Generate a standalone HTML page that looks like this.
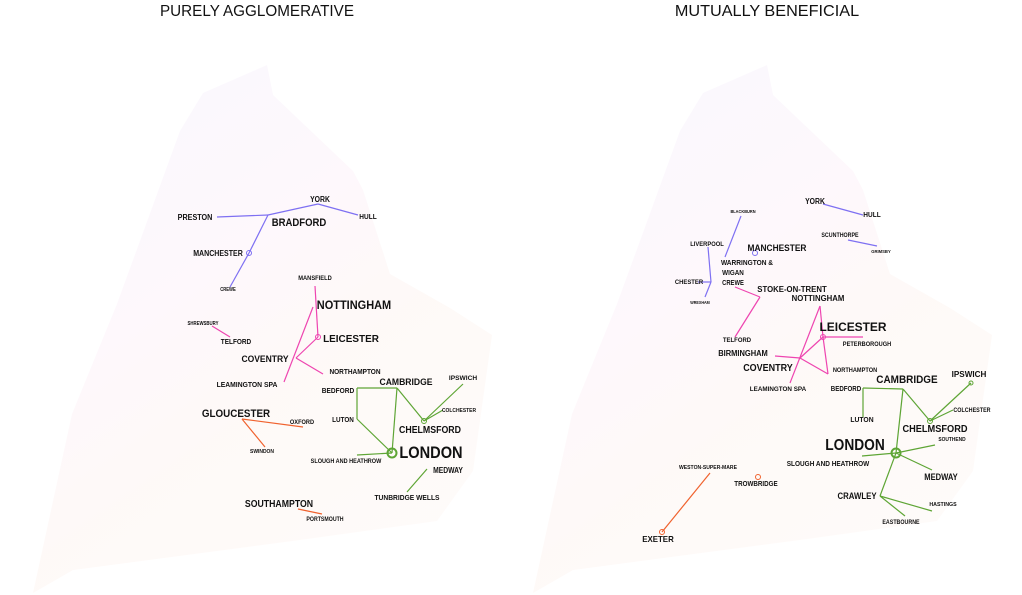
<!DOCTYPE html>
<html><head><meta charset="utf-8">
<style>
html,body{margin:0;padding:0;background:#fff;}
svg{display:block;}
text{font-family:"Liberation Sans",sans-serif;font-weight:bold;fill:#111;}
text.title{font-weight:normal;}
</style></head>
<body>
<svg id="chart" width="1022" height="595" viewBox="0 0 1022 595" xmlns="http://www.w3.org/2000/svg">
<defs>
<linearGradient id="bg" x1="0" y1="0" x2="0.6" y2="1">
<stop offset="0" stop-color="#b8b0f5"/>
<stop offset="0.45" stop-color="#f0b0dc"/>
<stop offset="0.7" stop-color="#f5c0a8"/>
<stop offset="1" stop-color="#f8d0c0"/>
</linearGradient>
</defs>
<g id="left"></g>
<g id="right"></g>
</svg>
<script>
const outline = [[267,65],[273,95],[353,171],[363,190],[390,274],[450,308],[492,335],[473,471],[437,521],[300,540],[73,570],[33,593],[72,414],[117,304],[180,131],[203,93]];
const colors = {b:'#7e70f2',p:'#ee45b0',g:'#5ea535',o:'#f0622e'};
const leftEdges = [
['b',217,217,268,215],['b',268,215,318,204],['b',318,204,358,215],['b',268,215,249,253],['b',249,253,230,287],
['p',315,286,318,337],['p',313,307,284,382],['p',318,337,296,358],['p',296,358,323,374],['p',212,326,230,337],
['g',357,388,397,388],['g',357,388,357,419],['g',357,419,392,453],['g',397,388,392,453],['g',397,388,424,421],['g',424,421,463,384],['g',424,421,443,410],['g',392,453,357,455],['g',427,469,407,492],
['o',242,419,303,427],['o',242,419,265,447],['o',298,509,322,514]];
const leftNodes = [['b',249,253,2.5],['p',318,337,2.5],['g',424,421,2.5],['g',392,453,4.5]];
const leftLabels = [
['PRESTON',195,220,8],['YORK',320,202,8],['BRADFORD',299,226,11],['HULL',368,219,7],['MANCHESTER',218,256,8],['CREWE',228,291,5],
['MANSFIELD',315,280,6],['NOTTINGHAM',354,309,12],['LEICESTER',351,342,10],['SHREWSBURY',203,325,5],['TELFORD',236,344,7],
['COVENTRY',265,362,9.5],['NORTHAMPTON',355,374,7.5],['LEAMINGTON SPA',247,387,7],['BEDFORD',338,393,7.5],['CAMBRIDGE',406,385,9.5],
['IPSWICH',463,380,6.5],['COLCHESTER',459,412,5.5],['CHELMSFORD',430,433,10],['LUTON',343,422,7],['LONDON',431,458,17],
['SLOUGH AND HEATHROW',346,463,6],['MEDWAY',448,473,8],['TUNBRIDGE WELLS',407,500,7],['GLOUCESTER',236,417,11],['OXFORD',302,424,6.5],
['SWINDON',262,453,5.5],['SOUTHAMPTON',279,507,10],['PORTSMOUTH',325,521,6]];
const rightEdges = [
['b',823,204,863,215],['b',848,240,877,246],['b',741,216,725,257],['b',708,247,711,282],['b',711,282,705,297],['b',698,282,711,282],
['p',735,287,760,297],['p',760,297,735,337],['p',820,306,823,337],['p',820,306,790,383],['p',823,337,800,358],['p',823,337,863,337],
['p',775,356,800,358],['p',800,358,828,374],['p',823,337,828,374],
['g',863,388,903,389],['g',863,388,863,417],['g',903,389,930,421],['g',930,421,971,383],['g',930,421,953,410],
['g',903,389,896,453],['g',896,453,880,496],['g',896,453,935,445],['g',896,453,862,456],['g',896,453,932,470],['g',880,496,932,511],['g',880,496,905,516],
['o',710,473,662,532]];
const rightNodes = [['b',755,253,2.5],['p',823,337,2.5],['g',930,421,2.5],['g',971,383,2],['g',896,453,4.5],['o',758,477,2.5],['o',662,532,2.5]];
const rightLabels = [
['YORK',815,204,8],['HULL',872,217,7],['BLACKBURN',743,213,4.5],['SCUNTHORPE',840,237,6],['GRIMSBY',881,253,4.5],['LIVERPOOL',707,246,6],
['MANCHESTER',777,251,9.5],['WARRINGTON &',747,265,7],['WIGAN',733,275,7],['CREWE',733,285,7],['CHESTER',689,284,6.5],['WREXHAM',700,304,4.5],
['STOKE-ON-TRENT',792,292,8],['NOTTINGHAM',818,301,8.5],['LEICESTER',853,331,12],['PETERBOROUGH',867,346,6.5],['TELFORD',737,342,6.5],
['BIRMINGHAM',743,356,8],['COVENTRY',768,371,10],['NORTHAMPTON',855,372,6.5],['LEAMINGTON SPA',778,391,6.5],['BEDFORD',846,391,7],
['CAMBRIDGE',907,383,11],['IPSWICH',969,377,8],['COLCHESTER',972,412,6],['LUTON',862,422,7.5],['CHELMSFORD',935,432,10.5],['SOUTHEND',952,441,5.5],
['LONDON',855,450,16],['SLOUGH AND HEATHROW',828,466,7],['MEDWAY',941,480,9],['CRAWLEY',857,499,9],['HASTINGS',943,506,5.5],['EASTBOURNE',901,524,6],
['WESTON-SUPER-MARE',708,469,5.5],['TROWBRIDGE',756,486,7],['EXETER',658,542,8.5]];
const titles = [['PURELY AGGLOMERATIVE',257,16,'left'],['MUTUALLY BENEFICIAL',767,16,'right']];
const NS='http://www.w3.org/2000/svg';
function mk(tag,attrs,parent){const e=document.createElementNS(NS,tag);for(const k in attrs)e.setAttribute(k,attrs[k]);parent.appendChild(e);return e;}
function panel(gid,dx,edges,nodes,labels){
  const g=document.getElementById(gid);
  const poly=mk('polygon',{points:outline.map(p=>(p[0]+dx)+','+p[1]).join(' '),fill:'url(#bg)','fill-opacity':'0.09',stroke:'none'},g);
  
  
  edges.forEach(e=>{
    const l=mk('line',{x1:e[1],y1:e[2],x2:e[3],y2:e[4],stroke:colors[e[0]],'stroke-width':'1.2'},g);
    
    
  });
  nodes.forEach(n=>{
    const c=mk('circle',{cx:n[1],cy:n[2],r:n[3],fill:'none',stroke:colors[n[0]],'stroke-width':n[3]>3?'2':'1'},g);
    
    
  });
  labels.forEach(t=>{
    const tx=mk('text',{x:t[1],y:t[2],'font-size':t[3],'text-anchor':'middle',textLength:(t[0].length*t[3]*0.62).toFixed(1),lengthAdjust:'spacingAndGlyphs'},g);
    tx.textContent=t[0];
    
    
  });
}
panel('left',0,leftEdges,leftNodes,leftLabels);
panel('right',500,rightEdges,rightNodes,rightLabels);
const svg=document.getElementById('chart');
titles.forEach(t=>{
  const tx=mk('text',{x:t[1],y:t[2],'font-size':'16','class':'title','text-anchor':'middle',textLength:t[0].length*9.7,lengthAdjust:'spacingAndGlyphs'},svg);
  tx.textContent=t[0];
  
  
});
</script>
</body></html>
